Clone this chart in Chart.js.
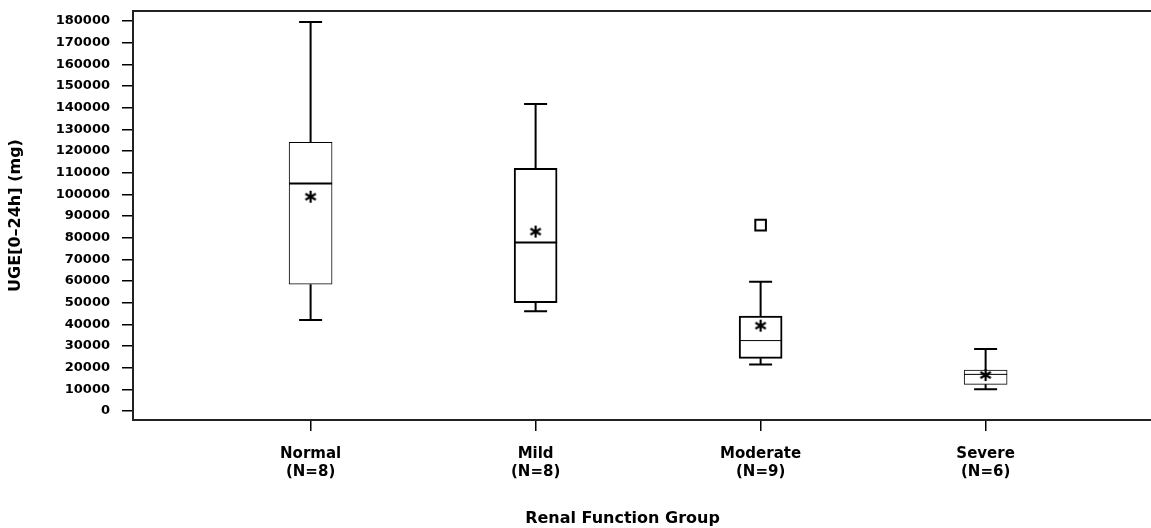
<!DOCTYPE html>
<html>
<head>
<meta charset="utf-8">
<script src="https://cdn.jsdelivr.net/npm/chart.js@4.4.1/dist/chart.umd.min.js"></script>
<style>
html,body{margin:0;padding:0;background:#fff;overflow:hidden}
canvas{display:block}
</style>
</head>
<body>
<canvas id="c" width="1151" height="528"></canvas>
<script>
// ---- data ----
const categories  = ['Normal', 'Mild', 'Moderate', 'Severe'];
const groupSizes  = ['(N=8)', '(N=8)', '(N=9)', '(N=6)'];
const whiskerLow  = [42000, 46000, 21500, 10000];
const q1          = [58500, 50000, 24300, 12300];
const median      = [105000, 77800, 32500, 16900];
const q3          = [124000, 112000, 43800, 18900];
const whiskerHigh = [179500, 141700, 59700, 28600];
const means       = [98900, 82800, 39400, 16600];
const outlierGroup = ['Moderate'];
const outlierValue = [85800];
const yTicks = [0, 10000, 20000, 30000, 40000, 50000, 60000, 70000, 80000, 90000,
                100000, 110000, 120000, 130000, 140000, 150000, 160000, 170000, 180000];

// ---- styles / geometry ----
const X_MIN = 0.2107, X_MAX = 4.735;
const Y_MIN = -4154, Y_MAX = 184615;
const UNIT_PX = 225;            // pixels per category step
const BOX_PX = 43, CAP_PX = 23;
const boxHalf = BOX_PX / 2 / UNIT_PX;
const capHalf = CAP_PX / 2 / UNIT_PX;
const boxBorder = [1, 2, 2, 1];
const medianWidth = [2, 2, 1, 1];
const FONT = "'DejaVu Sans', sans-serif";

// asterisk marker for the mean
function makeStar() {
  const c = document.createElement('canvas');
  c.width = 14; c.height = 14;
  const g = c.getContext('2d');
  g.strokeStyle = '#000'; g.lineWidth = 2.2; g.lineCap = 'butt';
  const r = 6, cx = 7, cy = 7;
  for (const a of [90, 30, 150]) {
    const dx = r * Math.cos(a * Math.PI / 180), dy = r * Math.sin(a * Math.PI / 180);
    g.beginPath(); g.moveTo(cx - dx, cy - dy); g.lineTo(cx + dx, cy + dy); g.stroke();
  }
  return c;
}

const pos = i => i + 1;
const whiskerPts = [];
const medianPts = [];
categories.forEach((c, i) => {
  const x = pos(i);
  whiskerPts.push({x, y: q3[i]}, {x, y: whiskerHigh[i]}, {x, y: null});
  whiskerPts.push({x, y: q1[i]}, {x, y: whiskerLow[i]}, {x, y: null});
  whiskerPts.push({x: x - capHalf, y: whiskerHigh[i]}, {x: x + capHalf, y: whiskerHigh[i]}, {x, y: null});
  whiskerPts.push({x: x - capHalf, y: whiskerLow[i]}, {x: x + capHalf, y: whiskerLow[i]}, {x, y: null});
  medianPts.push({x: x - boxHalf, y: median[i]}, {x: x + boxHalf, y: median[i]}, {x, y: null});
});

const tickGrid = {display: true, drawOnChartArea: false, drawTicks: true, tickLength: 11, color: '#000', lineWidth: 1.5};
const axisBorder = {display: true, color: '#222', width: 2};
const noPad = s => { s.paddingLeft = 0; s.paddingRight = 0; s.paddingTop = 0; s.paddingBottom = 0; };

new Chart(document.getElementById('c'), {
  type: 'bar',
  data: {
    datasets: [
      {
        type: 'bar',
        data: categories.map((c, i) => ({x: pos(i), y: [q1[i], q3[i]]})),
        backgroundColor: '#fff', borderColor: '#000',
        borderWidth: boxBorder, borderSkipped: false,
        barThickness: BOX_PX, order: 3
      },
      {
        type: 'line', data: whiskerPts, borderColor: '#000', borderWidth: 2,
        pointRadius: 0, spanGaps: false, fill: false, order: 2, borderCapStyle: 'butt'
      },
      {
        type: 'line', data: medianPts, borderColor: '#000', borderWidth: 2,
        pointRadius: 0, spanGaps: false, fill: false, order: 1,
        segment: {borderWidth: ctx => medianWidth[Math.floor(ctx.p0DataIndex / 3)]}
      },
      {
        type: 'scatter', data: categories.map((c, i) => ({x: pos(i), y: means[i]})),
        pointStyle: makeStar(), pointRadius: 7, order: 0
      },
      {
        type: 'scatter',
        data: outlierGroup.map((g, k) => ({x: pos(categories.indexOf(g)), y: outlierValue[k]})),
        pointStyle: 'rect', pointRadius: 7.5, borderWidth: 2,
        backgroundColor: '#fff', borderColor: '#000', order: 0
      }
    ]
  },
  options: {
    responsive: false,
    devicePixelRatio: 1,
    animation: false,
    layout: {autoPadding: false, padding: {top: 11, left: 0, right: 0, bottom: 0}},
    plugins: {legend: {display: false}, tooltip: {enabled: false}},
    scales: {
      x: {
        type: 'linear', position: 'bottom', min: X_MIN, max: X_MAX, offset: false,
        afterBuildTicks: s => { s.ticks = categories.map((c, i) => ({value: pos(i)})); },
        afterFit: s => { s.height = 108; noPad(s); },
        ticks: {
          callback: (v, idx) => [categories[idx], groupSizes[idx]],
          font: {family: FONT, size: 15, weight: 'bold'}, color: '#000',
          padding: 14, maxRotation: 0, autoSkip: false
        },
        grid: Object.assign({offset: false}, tickGrid),
        border: axisBorder,
        title: {
          display: true, text: 'Renal Function Group' + '\u00a0'.repeat(7),
          font: {family: FONT, size: 16, weight: 'bold'}, color: '#000',
          padding: {top: 0, bottom: 0}
        }
      },
      xTop: {
        type: 'linear', position: 'top', min: X_MIN, max: X_MAX, offset: false,
        afterFit: s => { s.height = 0; noPad(s); },
        ticks: {display: false},
        grid: {display: false, drawTicks: false},
        border: axisBorder
      },
      y: {
        type: 'linear', min: Y_MIN, max: Y_MAX,
        afterBuildTicks: s => { s.ticks = yTicks.map(v => ({value: v})); },
        afterFit: s => { s.width = 133; noPad(s); },
        ticks: {
          callback: v => String(v),
          font: {family: FONT, size: 13, weight: 'bold'}, color: '#000', padding: 12
        },
        grid: tickGrid,
        border: axisBorder,
        title: {
          display: true, text: 'UGE[0–24h] (mg)',
          font: {family: FONT, size: 16, weight: 'bold'}, color: '#000',
          padding: {top: 6, bottom: 0}
        }
      }
    }
  }
});
</script>
</body>
</html>
